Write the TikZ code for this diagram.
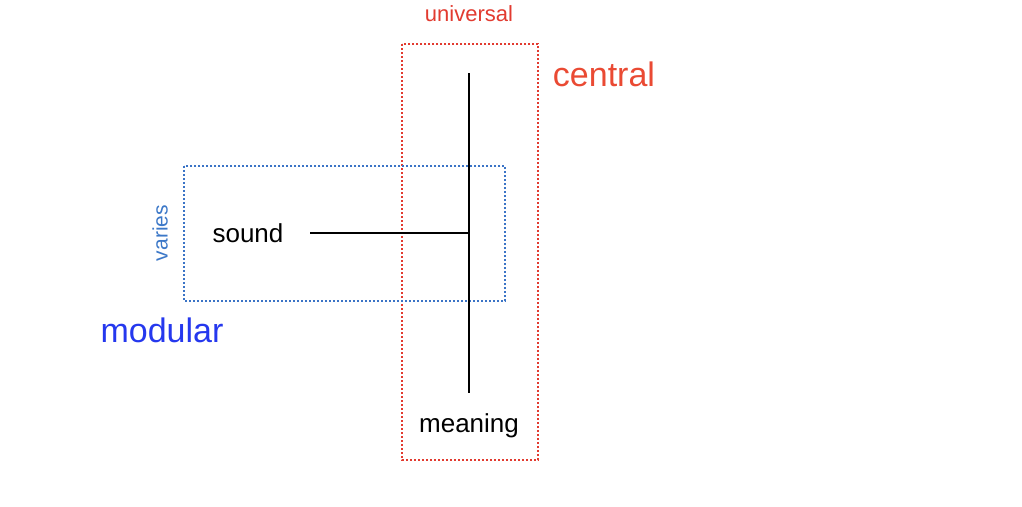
\documentclass[tikz,border=0pt]{standalone}
\usepackage{fontspec}
\setmainfont{Liberation Sans}
\definecolor{boxred}{HTML}{E23B30}
\definecolor{txtred}{HTML}{EA4A33}
\definecolor{boxblue}{HTML}{3B74C6}
\definecolor{txtblue}{HTML}{3C78C8}
\definecolor{modblue}{HTML}{2538EE}
\begin{document}
\begin{tikzpicture}[x=1pt,y=-1pt,
  dotbox/.style={line width=1.8pt,dash pattern=on 1.8pt off 2.2pt},
  ink/.style={line width=2pt,black},
  lbl/.style={inner sep=0pt,anchor=center},
  fs/.style={font=\fontsize{#1}{#1}\selectfont}]
\useasboundingbox[fill=white] (0,0) rectangle (1022,506);
\draw[dotbox,boxred] (402,44) rectangle (538,460);
\draw[dotbox,boxblue] (184,166) rectangle (505,301);
\coordinate (top) at (469,73);
\coordinate (bot) at (469,393);
\coordinate (junc) at (469,233);
\coordinate (hstart) at (310,233);
\draw[ink] (top) -- (bot);
\draw[ink] (hstart) -- (junc);
\node[lbl,fs=26] (sound) at (248,233) {sound};
\node[lbl,fs=26] (meaning) at (469,426) {meaning};
\node[lbl,fs=22,text=boxred] (universal) at (469,14) {universal};
\node[lbl,fs=34,text=txtred] (central) at (604,74) {central};
\node[lbl,fs=34,text=modblue] (modular) at (162,330) {modular};
\node[lbl,fs=21,text=txtblue,rotate=90] (varies) at (160,233) {varies};
\end{tikzpicture}
\end{document}
